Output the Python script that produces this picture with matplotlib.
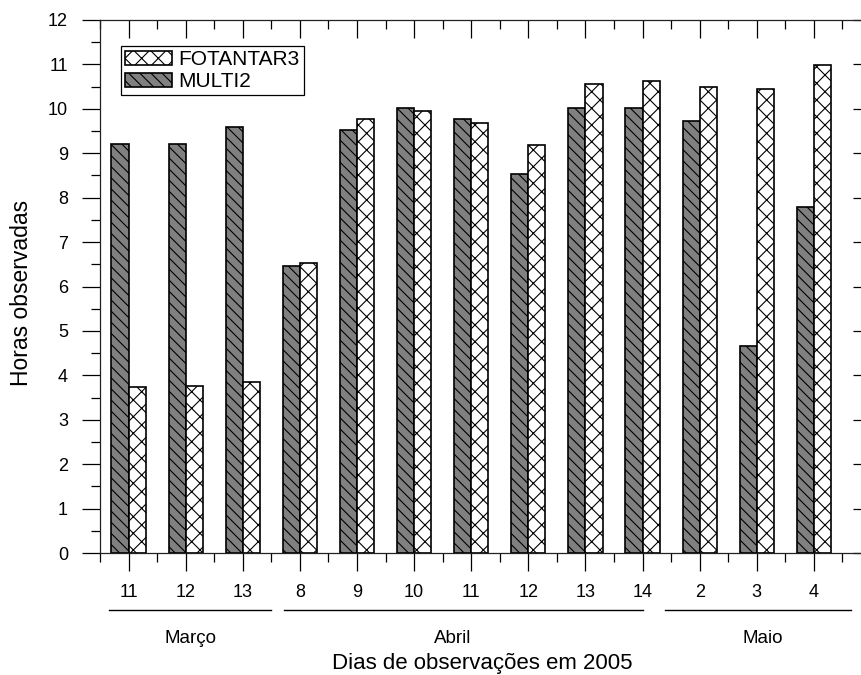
import matplotlib
matplotlib.use("Agg")
import matplotlib.pyplot as plt
import matplotlib.markers as mmarkers
import numpy as np
from matplotlib.ticker import MultipleLocator, FixedLocator
from matplotlib.patches import Patch

plt.rcParams['font.family'] = ['Liberation Sans', 'DejaVu Sans']
plt.rcParams['hatch.linewidth'] = 0.8

days = ['11', '12', '13', '8', '9', '10', '11', '12', '13', '14', '2', '3', '4']
months = ['Março', 'Abril', 'Maio']
multi2 = [9.20, 9.20, 9.60, 6.46, 9.52, 10.01, 9.76, 8.53, 10.03, 10.03, 9.73, 4.66, 7.79]
fotantar3 = [3.74, 3.77, 3.86, 6.54, 9.76, 9.96, 9.69, 9.18, 10.57, 10.62, 10.50, 10.44, 10.98]

W, H = 862, 675
fig = plt.figure(figsize=(W / 100, H / 100), dpi=100)
left, right, top, bottom = 100, 871, 20, 553
axw, axh = right - left, bottom - top
ax = fig.add_axes([left / W, (H - bottom) / H, axw / W, axh / H])

x = np.arange(len(days))
bw = 0.3
ax.bar(x - bw / 2, multi2, width=bw, color='#808080', edgecolor='black',
       hatch='\\\\\\', linewidth=1.2, label='MULTI2', zorder=2)
ax.bar(x + bw / 2, fotantar3, width=bw, color='white', edgecolor='black',
       hatch='xx', linewidth=1.2, label='FOTANTAR3', zorder=2)

ax.set_xlim(-0.5, 13.0)
ax.set_ylim(0, 12)

ax.set_xticks(x)
ax.set_xticklabels(days)
ax.xaxis.set_minor_locator(FixedLocator(np.arange(-0.5, 13.0, 1.0)))
ax.yaxis.set_major_locator(MultipleLocator(1))
ax.yaxis.set_minor_locator(MultipleLocator(0.5))

ax.tick_params(axis='x', which='major', direction='out', length=13, width=0.9,
               labelsize=13, pad=9.4, top=True, bottom=True)
ax.tick_params(axis='x', which='minor', direction='out', length=6.5, width=0.9,
               top=True, bottom=True)
ax.tick_params(axis='y', which='major', direction='out', length=13, width=0.9,
               labelsize=13, pad=10, left=True, right=True)
ax.tick_params(axis='y', which='minor', direction='out', length=6.5, width=0.9,
               left=True, right=True)
# top and right ticks point inward
for t in ax.xaxis.get_major_ticks() + ax.xaxis.get_minor_ticks():
    t.tick2line.set_marker(mmarkers.TICKDOWN)
for t in ax.yaxis.get_major_ticks() + ax.yaxis.get_minor_ticks():
    t.tick2line.set_marker(mmarkers.TICKLEFT)

for s in ax.spines.values():
    s.set_linewidth(0.9)
    s.set_color('#222222')

# month group lines and labels
trans = ax.get_xaxis_transform()
group_spans = [(-0.34, 2.49), (2.72, 9.0), (9.4, 12.65)]
line_y = -(610 - bottom) / axh
for (a, b) in group_spans:
    ax.plot([a, b], [line_y, line_y], transform=trans, color='black', lw=1.0,
            clip_on=False)
label_x = [1.09, 5.67, 11.1]
label_base = -(643 - bottom) / axh
for lx, m in zip(label_x, months):
    ax.text(lx, label_base, m, transform=trans, ha='center', va='baseline', fontsize=13.5)

ax.set_xlabel('Dias de observações em 2005', fontsize=16)
ax.xaxis.set_label_coords((482 - left) / axw, -(669 - bottom) / axh)
ax.xaxis.label.set_va('baseline')
ax.set_ylabel('Horas observadas', fontsize=16.5)
ax.yaxis.set_label_coords(-(left - 21) / axw, 1 - (293 - top) / axh)
ax.yaxis.label.set_va('center')

handles = [Patch(facecolor='white', edgecolor='black', hatch='xx', linewidth=1.2),
           Patch(facecolor='#808080', edgecolor='black', hatch='\\\\\\', linewidth=1.2)]
leg = ax.legend(handles, ['FOTANTAR3', 'MULTI2'], loc='upper left',
                bbox_to_anchor=((121 - left) / axw, 1 - (46 - top) / axh),
                borderaxespad=0, fontsize=15, frameon=True, fancybox=False,
                edgecolor='black', handlelength=2.25, handleheight=0.68,
                handletextpad=0.3, labelspacing=0.15, borderpad=0.2)
leg.get_frame().set_linewidth(0.9)
leg.get_frame().set_alpha(1)

fig.savefig('out.png', dpi=100)
